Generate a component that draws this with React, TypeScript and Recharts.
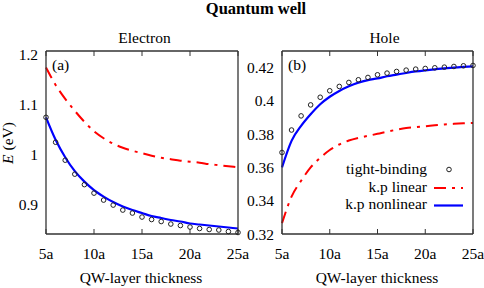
import { LineChart, Line, XAxis, YAxis } from 'recharts'

const thickness = [5, 6, 7, 8, 9, 10, 11, 12, 13, 14, 15, 16, 17, 18, 19, 20, 21, 22, 23, 24, 25]
const xTicks = [5, 10, 15, 20, 25]

const electronTB = [1.075, 1.025, 0.989, 0.961, 0.94, 0.923, 0.909, 0.899, 0.889, 0.883, 0.875, 0.87, 0.866, 0.861, 0.858, 0.855, 0.852, 0.85, 0.849, 0.846, 0.844]
const electronLinear = [1.175, 1.14, 1.112, 1.088, 1.066, 1.047, 1.033, 1.022, 1.014, 1.008, 1.003, 0.998, 0.994, 0.991, 0.988, 0.986, 0.984, 0.981, 0.979, 0.977, 0.975]
const electronNonlinear = [1.075, 1.03, 0.995, 0.967, 0.946, 0.929, 0.916, 0.905, 0.896, 0.889, 0.883, 0.877, 0.873, 0.869, 0.866, 0.862, 0.86, 0.858, 0.856, 0.854, 0.852]
const electronTicks = [0.9, 1, 1.1, 1.2]

const holeTB = [0.369, 0.3825, 0.391, 0.3976, 0.4022, 0.4061, 0.4087, 0.4111, 0.4127, 0.4141, 0.4157, 0.4167, 0.4177, 0.4185, 0.4191, 0.4195, 0.4199, 0.4203, 0.4207, 0.4211, 0.4213]
const holeLinear = [0.3265, 0.3425, 0.352, 0.36, 0.3658, 0.3705, 0.3738, 0.3762, 0.3778, 0.379, 0.3802, 0.3815, 0.3827, 0.3837, 0.3843, 0.3848, 0.3853, 0.3858, 0.3862, 0.3865, 0.3867]
const holeNonlinear = [0.36, 0.376, 0.385, 0.392, 0.398, 0.4025, 0.406, 0.4088, 0.411, 0.4125, 0.4135, 0.4148, 0.4158, 0.4168, 0.4177, 0.4184, 0.419, 0.4196, 0.42, 0.4204, 0.4207]
const holeTicks = [0.32, 0.34, 0.36, 0.38, 0.4, 0.42]

const font = 'Liberation Serif, DejaVu Serif, serif'
const axisColor = '#333'
const red = '#ff0000'
const blue = '#0000ff'

const electronData = thickness.map((n, i) => ({
  n,
  tb: electronTB[i],
  linear: electronLinear[i],
  nonlinear: electronNonlinear[i],
}))
const holeData = thickness.map((n, i) => ({
  n,
  tb: holeTB[i],
  linear: holeLinear[i],
  nonlinear: holeNonlinear[i],
}))

const tickStyle = { fill: '#000', fontSize: 15.5, style: { fontFamily: font } }
const noLabel = () => <g />
const frame = { stroke: axisColor, strokeWidth: 1.3 }

function Panel({ data, domain, yTicks, width, yWidth, right }: any) {
  return (
    <LineChart
      width={width}
      height={288}
      data={data}
      margin={{ top: 51, right, bottom: 24, left: 0 }}
      style={{ fontFamily: font }}
    >
      <XAxis
        dataKey="n"
        type="number"
        domain={[5, 25]}
        ticks={xTicks}
        interval={0}
        tickFormatter={(v) => `${v}a`}
        tickLine={false}
        tickSize={0}
        tickMargin={14}
        height={30}
        axisLine={frame}
        tick={tickStyle}
      />
      <XAxis xAxisId="bm" dataKey="n" type="number" domain={[5, 25]} ticks={xTicks} interval={0}
        mirror tick={noLabel} tickSize={5} height={1} axisLine={false} tickLine={{ stroke: axisColor }} />
      <XAxis xAxisId="top" orientation="top" dataKey="n" type="number" domain={[5, 25]} ticks={xTicks} interval={0}
        mirror tick={noLabel} tickSize={5} height={1} axisLine={frame} tickLine={{ stroke: axisColor }} />
      <YAxis
        type="number"
        domain={domain}
        ticks={yTicks}
        interval={0}
        width={yWidth}
        tickLine={false}
        tickSize={0}
        tickMargin={8}
        axisLine={frame}
        tick={tickStyle}
      />
      <YAxis yAxisId="lm" type="number" domain={domain} ticks={yTicks} interval={0}
        mirror tick={noLabel} tickSize={5} width={1} axisLine={false} tickLine={{ stroke: axisColor }} />
      <YAxis yAxisId="right" orientation="right" type="number" domain={domain} ticks={yTicks} interval={0}
        mirror tick={noLabel} tickSize={5} width={1} axisLine={frame} tickLine={{ stroke: axisColor }} />
      <Line
        dataKey="linear"
        type="monotone"
        stroke={red}
        strokeWidth={2}
        strokeDasharray="12 6 3 6"
        dot={false}
        isAnimationActive={false}
      />
      <Line
        dataKey="nonlinear"
        type="monotone"
        stroke={blue}
        strokeWidth={2.2}
        dot={false}
        isAnimationActive={false}
      />
      <Line
        dataKey="tb"
        stroke="none"
        dot={{ r: 2.3, stroke: '#222', strokeWidth: 1, fill: 'none' }}
        isAnimationActive={false}
      />
    </LineChart>
  )
}

export default function App() {
  return (
    <div style={{ position: 'absolute', left: 0, top: 0, width: 484, height: 288, background: '#fff', overflow: 'hidden', fontFamily: font }}>
      <div style={{ position: 'absolute', left: 0, top: 0 }}>
        <Panel data={electronData} domain={[0.841, 1.208]} yTicks={electronTicks} width={260} yWidth={46} right={22} />
      </div>
      <div style={{ position: 'absolute', left: 242, top: 0 }}>
        <Panel data={holeData} domain={[0.32, 0.43]} yTicks={holeTicks} width={242} yWidth={40} right={11} />
      </div>
      <svg width={484} height={288} style={{ position: 'absolute', left: 0, top: 0, pointerEvents: 'none', fontFamily: font }}
        fill="#000">
        <text x={256} y={14} fontSize={16.5} fontWeight="bold" textAnchor="middle">Quantum well</text>
        <text x={144.5} y={43} fontSize={15.5} textAnchor="middle">Electron</text>
        <text x={384.5} y={43} fontSize={15.5} textAnchor="middle">Hole</text>
        <text x={141} y={283} fontSize={15.5} textAnchor="middle">QW-layer thickness</text>
        <text x={377} y={283} fontSize={15.5} textAnchor="middle">QW-layer thickness</text>
        <text x={52} y={70} fontSize={15.5}>(a)</text>
        <text x={288} y={70} fontSize={15.5}>(b)</text>
        <text x={13} y={143} fontSize={15.5} textAnchor="middle" transform="rotate(-90 13 143)">
          <tspan fontStyle="italic">E</tspan> (eV)
        </text>
        <text x={427} y={174} fontSize={15.5} textAnchor="end">tight-binding</text>
        <text x={427} y={191.5} fontSize={15.5} textAnchor="end">k.p linear</text>
        <text x={427} y={209} fontSize={15.5} textAnchor="end">k.p nonlinear</text>
        <circle cx={449} cy={169.5} r={2.3} fill="none" stroke="#222" strokeWidth={1} />
        <line x1={434} y1={188} x2={463} y2={188} stroke={red} strokeWidth={2} strokeDasharray="12 6 3 6" />
        <line x1={434} y1={205.5} x2={463} y2={205.5} stroke={blue} strokeWidth={2.2} />
      </svg>
    </div>
  )
}
